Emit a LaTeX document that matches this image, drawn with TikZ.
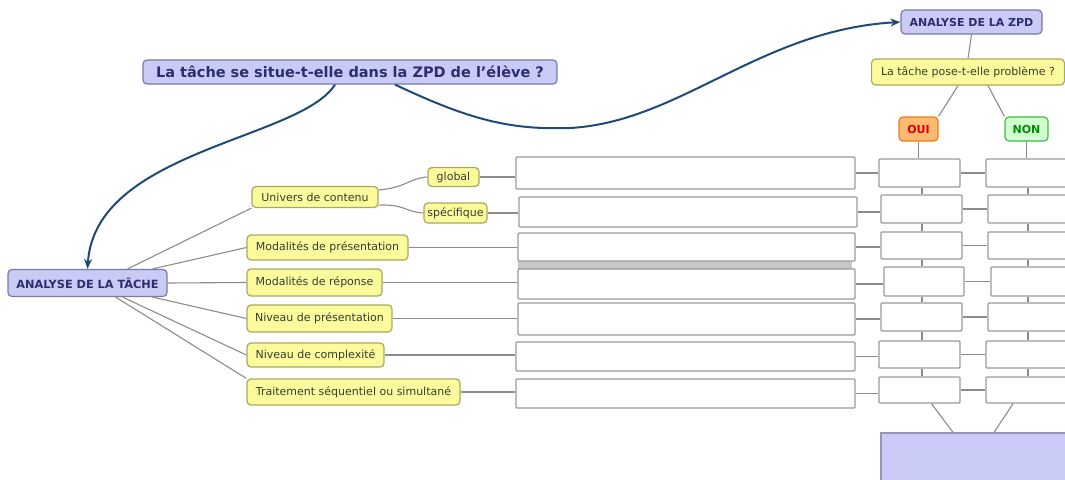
\documentclass[tikz,border=0pt]{standalone}
\usepackage{fontspec}
\setmainfont{DejaVu Sans}
\usetikzlibrary{arrows.meta}
\definecolor{lav}{HTML}{C9CAF6}
\definecolor{lavb}{HTML}{7A7AA8}
\definecolor{yel}{HTML}{FBFB9C}
\definecolor{yelb}{HTML}{A8A860}
\definecolor{navy}{HTML}{2B2F6E}
\definecolor{arr}{HTML}{1E4A78}
\definecolor{conn}{HTML}{8C8C8C}
\definecolor{boxb}{HTML}{9A9A9A}
\tikzset{
  lavnode/.style={draw=lavb, fill=lav, rounded corners=4pt, line width=1.2pt, inner sep=0pt, text=navy, font=\bfseries},
  yelnode/.style={draw=yelb, fill=yel, rounded corners=4pt, line width=1.2pt, inner sep=0pt, text=black!70!yellow!40!black, font=\fontsize{11}{12}\selectfont},
  longbox/.style={draw=boxb, fill=white, line width=1.3pt, inner sep=0pt, rounded corners=1pt},
  smallbox/.style={draw=boxb, fill=white, line width=1.3pt, inner sep=0pt, rounded corners=1pt},
  cline/.style={draw=conn, line width=1.1pt},
  bigarrow/.style={draw=arr, line width=2pt, -{Stealth[length=10pt,width=8pt]}},
}
\begin{document}
\begin{tikzpicture}[x=1pt,y=-1pt]
\useasboundingbox (0,0) rectangle (1065,479);
% top nodes
\node[lavnode, minimum width=414pt, minimum height=24pt, font=\bfseries\fontsize{14.5}{16}\selectfont] (title) at (350,72) {La tâche se situe-t-elle dans la ZPD de l'élève ?};
\node[lavnode, minimum width=141pt, minimum height=24pt, font=\bfseries\fontsize{11}{12}\selectfont] (zpd) at (971.5,22) {ANALYSE DE LA ZPD};
\node[yelnode, minimum width=193pt, minimum height=26pt, font=\fontsize{11}{12}\selectfont] (pose) at (968,72) {La tâche pose-t-elle problème ?};
\node[draw=orange!60!brown, fill=orange!55!white, rounded corners=4pt, line width=1.2pt, inner sep=0pt, minimum width=39pt, minimum height=24pt, text=red!85!black, font=\bfseries\fontsize{11}{12}\selectfont] (oui) at (918.5,129) {OUI};
\node[draw=green!45!gray, fill=green!18!white, rounded corners=4pt, line width=1.2pt, inner sep=0pt, minimum width=43pt, minimum height=24pt, text=green!55!black, font=\bfseries\fontsize{11}{12}\selectfont] (non) at (1026.5,129) {NON};
% left root
\node[lavnode, minimum width=159pt, minimum height=27pt, font=\bfseries\fontsize{11.3}{12}\selectfont] (tache) at (87.5,283) {ANALYSE DE LA TÂCHE};
% yellow nodes
\node[yelnode, minimum width=126pt, minimum height=21pt] (univ) at (315,197) {Univers de contenu};
\node[yelnode, minimum width=51pt, minimum height=19pt] (glob) at (453.5,177) {global};
\node[yelnode, minimum width=63pt, minimum height=20pt] (spec) at (455.5,213) {spécifique};
\node[yelnode, minimum width=161pt, minimum height=25pt] (mpres) at (327.5,247.5) {Modalités de présentation};
\node[yelnode, minimum width=135pt, minimum height=27pt] (mrep) at (314.5,282.5) {Modalités de réponse};
\node[yelnode, minimum width=145pt, minimum height=27pt] (npres) at (319.5,318.5) {Niveau de présentation};
\node[yelnode, minimum width=137pt, minimum height=24pt] (ncomp) at (315.5,355) {Niveau de complexité};
\node[yelnode, minimum width=213pt, minimum height=26pt] (trait) at (353.5,392) {Traitement séquentiel ou simultané};
% grey bar
\fill[black!22] (518,261) rectangle (852,269);
% long boxes
\node[longbox, minimum width=339pt, minimum height=32pt] (L1) at (685.5,173) {};
\node[longbox, minimum width=338pt, minimum height=30pt] (L2) at (688,212) {};
\node[longbox, minimum width=337pt, minimum height=28pt] (L3) at (686.5,247) {};
\node[longbox, minimum width=337pt, minimum height=30pt] (L4) at (686.5,284) {};
\node[longbox, minimum width=337pt, minimum height=32pt] (L5) at (686.5,319) {};
\node[longbox, minimum width=339pt, minimum height=29pt] (L6) at (685.5,356.5) {};
\node[longbox, minimum width=339pt, minimum height=29pt] (L7) at (685.5,393.5) {};
% column 1
\node[smallbox, minimum width=81pt, minimum height=28pt] (A1) at (919.5,173) {};
\node[smallbox, minimum width=81pt, minimum height=28pt] (A2) at (921.5,209) {};
\node[smallbox, minimum width=81pt, minimum height=27pt] (A3) at (921.5,245.5) {};
\node[smallbox, minimum width=80pt, minimum height=29pt] (A4) at (924,281.5) {};
\node[smallbox, minimum width=81pt, minimum height=28pt] (A5) at (921.5,317) {};
\node[smallbox, minimum width=81pt, minimum height=27pt] (A6) at (919.5,354.5) {};
\node[smallbox, minimum width=81pt, minimum height=26pt] (A7) at (919.5,390) {};
% column 2
\node[smallbox, minimum width=82pt, minimum height=28pt] (B1) at (1027,173) {};
\node[smallbox, minimum width=82pt, minimum height=28pt] (B2) at (1029,209) {};
\node[smallbox, minimum width=82pt, minimum height=27pt] (B3) at (1029,245.5) {};
\node[smallbox, minimum width=82pt, minimum height=29pt] (B4) at (1032,281.5) {};
\node[smallbox, minimum width=82pt, minimum height=28pt] (B5) at (1029,317) {};
\node[smallbox, minimum width=82pt, minimum height=27pt] (B6) at (1027,354.5) {};
\node[smallbox, minimum width=82pt, minimum height=26pt] (B7) at (1027,390) {};
% blue bottom
\node[draw=lavb!80, fill=lav, line width=1.2pt, inner sep=0pt, minimum width=188pt, minimum height=50pt] (blue) at (975,458) {};
% connectors top right
\draw[cline] (zpd.south) -- (pose.north);
\draw[cline] (pose.south) ++(-10,0) coordinate (p1) -- (oui.north east);
\draw[cline] (pose.south) ++(20,0) coordinate (p2) -- (non.north west);
\draw[cline] (oui.south) -- (oui.south |- A1.north);
\draw[cline] (non.south) -- (non.south |- B1.north);
% left connectors
\draw[cline] (tache.north east) ++(-40,0) coordinate (t1) -- (univ.south west);
\draw[cline] (tache.north east) ++(-15,0) coordinate (t2) -- (mpres.west);
\draw[cline] (tache.east) -- (mrep.west);
\draw[cline] (tache.south east) ++(-15,0) coordinate (t3) -- (npres.west);
\draw[cline] (tache.south east) ++(-45,0) coordinate (t4) -- (ncomp.west);
\draw[cline] (tache.south east) ++(-52,0) coordinate (t5) -- (trait.north west);
\draw[cline] (univ.north east) ++(0,4) coordinate (u1) .. controls (405,188) and (410,178) .. (glob.west);
\draw[cline] (univ.south east) ++(0,-3) coordinate (u2) .. controls (405,204) and (405,212) .. (spec.west);
% yellow to long boxes
\draw[cline] (glob.east) -- (glob.east -| L1.west);
\draw[cline] (spec.east) -- (spec.east -| L2.west);
\draw[cline] (mpres.east) -- (mpres.east -| L3.west);
\draw[cline] (mrep.east) -- (mrep.east -| L4.west);
\draw[cline] (npres.east) -- (npres.east -| L5.west);
\draw[cline] (ncomp.east) -- (ncomp.east -| L6.west);
\draw[cline] (trait.east) -- (trait.east -| L7.west);
% long boxes to column 1 and 2
\foreach \i in {1,...,7}{
  \draw[cline] (L\i.east) -- (L\i.east -| A\i.west);
  \draw[cline] (A\i.east) -- (A\i.east -| B\i.west);
}
% vertical links in columns
\foreach \i/\j in {1/2,2/3,3/4,4/5,5/6,6/7}{
  \draw[cline] (922,0 |- A\i.south) -- (922,0 |- A\j.north);
  \draw[cline] (1028,0 |- B\i.south) -- (1028,0 |- B\j.north);
}
\draw[cline] (A7.south) ++(12,0) coordinate (a7) -- (953,0 |- blue.north);
\draw[cline] (B7.south) ++(-14,0) coordinate (b7) -- (994,0 |- blue.north);
% big arrows
\draw[bigarrow] (title.south) ++(-15,0) coordinate (s1) .. controls (300,140) and (95,150) .. (tache.north);
\draw[bigarrow] (title.south) ++(45,0) coordinate (s2) .. controls (470,120) and (510,130) .. (570,128) .. controls (680,122) and (760,30) .. (zpd.west);
\end{tikzpicture}
\end{document}
